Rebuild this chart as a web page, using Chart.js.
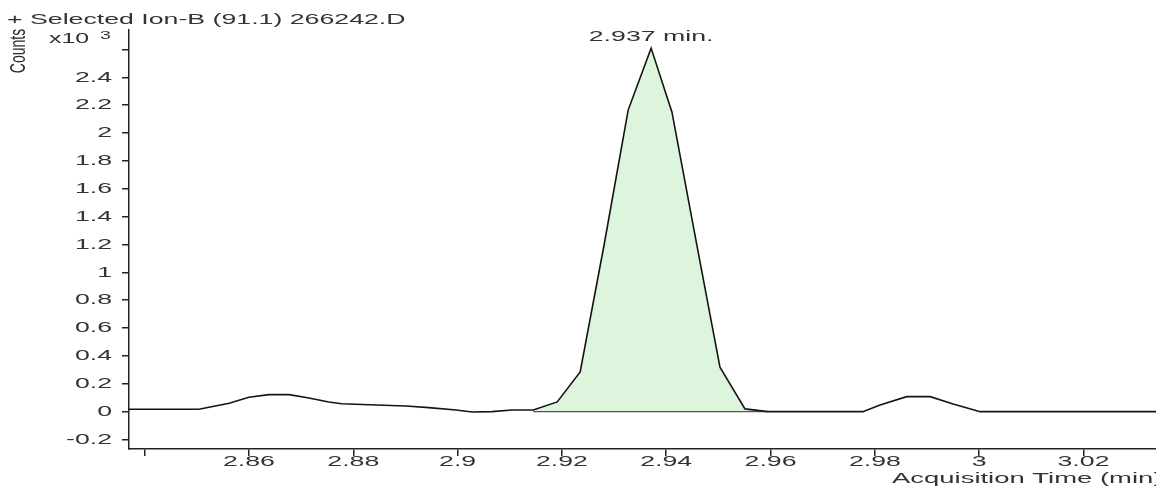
<!DOCTYPE html>
<html>
<head>
<meta charset="utf-8">
<script src="https://cdn.jsdelivr.net/npm/chart.js@4.4.1/dist/chart.umd.min.js"></script>
<style>
  html, body { margin: 0; padding: 0; background: #ffffff; }
  #wrap { width: 1156px; height: 487px; position: relative; overflow: hidden; }
  canvas { display: block; }
</style>
</head>
<body>
<div id="wrap"><canvas id="c" width="1156" height="487"></canvas></div>
<script>
// ---- data (acquisition time in min, counts in x10^3) ----
const timeMin = [2.837, 2.8466, 2.8504, 2.8562, 2.8600, 2.8638, 2.8677, 2.8715, 2.8753, 2.8778,
                 2.8844, 2.8901, 2.8945, 2.8997, 2.9028, 2.9066, 2.9104, 2.9145, 2.9191, 2.9235,
                 2.9281, 2.9327, 2.9371, 2.9411, 2.9459, 2.9503, 2.9551, 2.9595, 2.9777, 2.9810,
                 2.9861, 2.9906, 2.9950, 3.0002, 3.034];
const countsK = [0.017, 0.017, 0.017, 0.060, 0.103, 0.122, 0.122, 0.098, 0.070, 0.057,
                 0.048, 0.041, 0.029, 0.012, -0.002, 0.000, 0.012, 0.012, 0.070, 0.285,
                 1.200, 2.165, 2.610, 2.150, 1.190, 0.320, 0.020, 0.000, 0.000, 0.048,
                 0.108, 0.108, 0.055, 0.000, 0.000];
const integrationStart = 2.9145;
const integrationEnd = 2.9595;
const xTickValues = [2.84, 2.86, 2.88, 2.90, 2.92, 2.94, 2.96, 2.98, 3.00, 3.02];
const xTickLabels = ['', '2.86', '2.88', '2.9', '2.92', '2.94', '2.96', '2.98', '3', '3.02'];
const yTickValues = [-0.2, 0, 0.2, 0.4, 0.6, 0.8, 1.0, 1.2, 1.4, 1.6, 1.8, 2.0, 2.2, 2.4, 2.6];
const yTickLabels = ['-0.2', '0', '0.2', '0.4', '0.6', '0.8', '1', '1.2', '1.4', '1.6', '1.8', '2', '2.2', '2.4', ''];
const titleText = '+ Selected Ion-B (91.1) 266242.D';
const yAxisTitle = 'Counts';
const xAxisTitle = 'Acquisition Time (min)';

// ---- derived ----
const tracePts = timeMin.map((t, i) => ({ x: t, y: countsK[i] }));
const peakPts = tracePts.filter(p => p.x >= integrationStart - 1e-9 && p.x <= integrationEnd + 1e-9);
const baselinePts = [{ x: integrationStart, y: 0 }, { x: integrationEnd, y: 0 }];
let apex = tracePts[0];
tracePts.forEach(p => { if (p.y > apex.y) apex = p; });

const SX = 1.78;           // horizontal stretch of the reference's text
const FS = 15;
const FONT = '"Liberation Sans", Arial, sans-serif';
const TXT = '#333333';

function sText(ctx, text, x, y, align, size, sx) {
  ctx.save();
  ctx.font = size + 'px ' + FONT;
  ctx.fillStyle = TXT;
  ctx.textBaseline = 'middle';
  ctx.textAlign = align;
  ctx.translate(x, y);
  ctx.scale(sx, 1);
  ctx.fillText(text, 0, 0);
  ctx.restore();
}

const textPlugin = {
  id: 'texts',
  afterDraw(chart) {
    const ctx = chart.ctx;
    const xs = chart.scales.x, ys = chart.scales.y;
    // tick labels
    xTickValues.forEach((v, i) => {
      if (xTickLabels[i]) sText(ctx, xTickLabels[i], xs.getPixelForValue(v), 462, 'center', FS, SX);
    });
    yTickValues.forEach((v, i) => {
      if (yTickLabels[i]) sText(ctx, yTickLabels[i], 112, ys.getPixelForValue(v), 'right', FS, SX);
    });
    // title
    sText(ctx, titleText, 7, 20, 'left', FS, SX);
    // x10^3
    sText(ctx, 'x10', 49, 39, 'left', 14, SX);
    sText(ctx, '3', 100, 36, 'left', 11, SX);
    // y axis title (rotated)
    ctx.save();
    ctx.font = '14px ' + FONT;
    ctx.fillStyle = '#2a2a2a';
    ctx.textAlign = 'center';
    ctx.textBaseline = 'middle';
    ctx.translate(19, 51);
    ctx.scale(1.6, 1);
    ctx.rotate(-Math.PI / 2);
    ctx.fillText(yAxisTitle, 0, 0);
    ctx.restore();
    // x axis title
    sText(ctx, xAxisTitle, 892, 479, 'left', FS, 1.83);
    // peak label
    sText(ctx, apex.x.toFixed(3) + ' min.', xs.getPixelForValue(apex.x), 37, 'center', FS, SX);
  }
};

new Chart(document.getElementById('c'), {
  type: 'line',
  data: {
    datasets: [
      { data: tracePts, borderColor: '#141414', borderWidth: 1.6, pointRadius: 0, tension: 0, fill: false },
      { data: baselinePts, borderColor: '#555555', borderWidth: 1.2, pointRadius: 0, fill: false },
      { data: peakPts, borderWidth: 0, borderColor: 'rgba(0,0,0,0)', backgroundColor: '#dcf5dc', pointRadius: 0, tension: 0, fill: 'origin' }
    ]
  },
  options: {
    responsive: false,
    animation: false,
    events: [],
    layout: { padding: { top: 30, right: 0, left: 0, bottom: 0 } },
    plugins: { legend: { display: false }, tooltip: { enabled: false }, title: { display: false } },
    scales: {
      x: {
        type: 'linear',
        min: 2.837,
        max: 3.0339,
        afterBuildTicks: s => { s.ticks = xTickValues.map(v => ({ value: v })); },
        afterFit: s => { s.height = 38; },
        ticks: { display: false },
        grid: { drawOnChartArea: false, drawTicks: true, tickLength: 7, color: '#222', lineWidth: 1.5 },
        border: { display: true, color: '#222', width: 1.5 }
      },
      y: {
        type: 'linear',
        min: -0.268,
        max: 2.74,
        afterBuildTicks: s => { s.ticks = yTickValues.map(v => ({ value: v })); },
        afterFit: s => { s.width = 129; },
        ticks: { display: false },
        grid: { drawOnChartArea: false, drawTicks: true, tickLength: 7, color: '#222', lineWidth: 1.5 },
        border: { display: true, color: '#222', width: 1.5 }
      }
    }
  },
  plugins: [textPlugin]
});
</script>
</body>
</html>
